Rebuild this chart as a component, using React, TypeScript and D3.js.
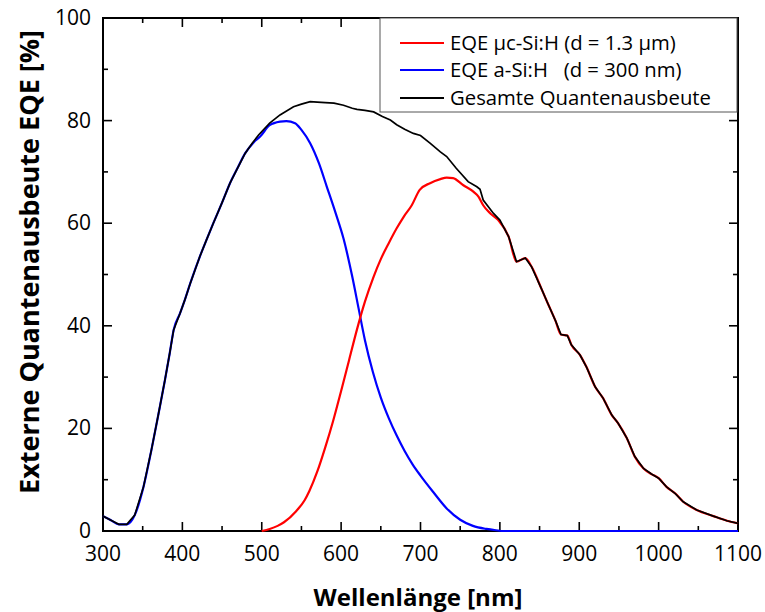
import React from "react";
import * as d3 from "d3";

// ---- data ----
const totalNm = [300, 310, 320, 330, 340, 351, 361, 370, 378, 384, 389, 397, 403, 410, 422, 430, 439, 450, 460, 470, 479, 488, 496, 510, 523, 540, 550, 561, 570, 580, 591, 603, 614, 620, 630, 641, 652, 662, 670, 680, 691, 700, 712, 725, 733, 745, 760, 771, 775, 779, 792, 800, 811, 821, 832, 840, 853, 860, 870, 877, 885, 890, 901, 909, 920, 930, 941, 949, 960, 970, 981, 991, 1000, 1010, 1021, 1031, 1048, 1069, 1086, 1100];
const totalEqe = [2.9, 2.1, 1.3, 1.3, 3.1, 8.6, 15.8, 22.9, 29.4, 34.6, 39.2, 42.4, 45.0, 48.3, 53.5, 56.6, 60.0, 64.0, 67.8, 70.9, 73.6, 75.6, 77.2, 79.5, 81.1, 82.7, 83.2, 83.7, 83.6, 83.5, 83.4, 83.0, 82.4, 82.2, 82.0, 81.7, 80.8, 80.1, 79.2, 78.3, 77.5, 77.1, 75.6, 73.9, 73.0, 70.7, 68.1, 67.1, 66.6, 64.5, 61.9, 60.6, 57.4, 52.5, 53.2, 51.5, 47.0, 44.5, 41.0, 38.3, 38.1, 36.3, 34.3, 32.0, 28.1, 25.9, 22.6, 21.0, 18.1, 14.5, 12.2, 11.1, 10.3, 8.6, 7.3, 5.7, 4.1, 2.9, 2.0, 1.5];

const aSiNm = [300, 310, 320, 330, 340, 351, 361, 370, 378, 384, 389, 397, 403, 410, 422, 430, 439, 450, 460, 470, 479, 490, 498, 510, 523, 531, 542, 550, 561, 572, 582, 593, 603, 614, 622, 630, 640, 650, 660, 670, 680, 690, 700, 716, 733, 750, 766, 783, 795, 805, 1100];
const aSiEqe = [2.9, 2.1, 1.3, 1.3, 3.1, 8.6, 15.8, 22.9, 29.4, 34.6, 39.2, 42.4, 45.0, 48.3, 53.5, 56.6, 60.0, 64.0, 67.8, 70.9, 73.6, 75.8, 76.9, 79.1, 79.8, 79.9, 79.5, 78.2, 75.6, 71.7, 67.1, 62.0, 57.0, 49.6, 43.4, 37.2, 31.0, 26.0, 22.0, 18.6, 15.6, 13.0, 10.8, 7.6, 4.4, 2.2, 1.0, 0.4, 0.15, 0.0, 0.0];

const ucSiNm = [500, 510, 520, 528, 543, 554, 560, 570, 580, 590, 600, 610, 620, 630, 641, 650, 660, 670, 679, 689, 699, 712, 725, 733, 741, 754, 767, 773, 779, 788, 798, 811, 821, 832, 840, 853, 860, 870, 877, 885, 890, 901, 909, 920, 930, 941, 949, 960, 970, 981, 991, 1000, 1010, 1021, 1031, 1048, 1069, 1086, 1100];
const ucSiEqe = [0.0, 0.4, 1.0, 1.7, 3.8, 6.0, 7.8, 11.6, 16.3, 21.5, 27.3, 33.3, 39.3, 44.7, 49.6, 53.0, 56.1, 59.0, 61.3, 63.5, 66.5, 67.8, 68.6, 68.9, 68.8, 67.4, 66.1, 65.2, 63.5, 61.9, 60.6, 57.4, 52.5, 53.2, 51.5, 47.0, 44.5, 41.0, 38.3, 38.1, 36.3, 34.3, 32.0, 28.1, 25.9, 22.6, 21.0, 18.1, 14.5, 12.2, 11.1, 10.3, 8.6, 7.3, 5.7, 4.1, 2.9, 2.0, 1.5];

const xTickLabels = [300, 400, 500, 600, 700, 800, 900, 1000, 1100];
const xMinorTicks = [350, 450, 550, 650, 750, 850, 950, 1050];
const yTickLabels = [0, 20, 40, 60, 80, 100];
const yMinorTicks = [10, 30, 50, 70, 90];

const legendLabels = ["EQE \u00b5c-Si:H (d = 1.3 \u00b5m)", "EQE a-Si:H   (d = 300 nm)", "Gesamte Quantenausbeute"];
const seriesColors = ["#ff0000", "#0000ff", "#000000"];

const W = 765, H = 612;
const left = 103, right = 738, top = 18, bottom = 531;
const FONT = "'Open Sans', 'Noto Sans', sans-serif";

export default function App() {
  const x = d3.scaleLinear().domain([300, 1100]).range([left, right]);
  const y = d3.scaleLinear().domain([0, 100]).range([bottom, top]);
  const lineLin = d3.line<[number, number]>().x(d => x(d[0])).y(d => y(d[1]));
  const lineSmooth = d3.line<[number, number]>().x(d => x(d[0])).y(d => y(d[1])).curve(d3.curveMonotoneX);
  const mk = (nm: number[], v: number[], smooth: boolean) =>
    (smooth ? lineSmooth : lineLin)(nm.map((n, i) => [n, v[i]] as [number, number])) || "";

  const major = 9, minor = 5;
  const legX = 380, legY = 18, legW = 357, legH = 94;
  const rows = [43, 70, 98];

  return (
    <svg width={W} height={H} style={{ position: "absolute", left: 0, top: 0, background: "#fff" }} fontFamily={FONT}>
      <rect x={0} y={0} width={W} height={H} fill="#fff" />
      {xTickLabels.map(t => (
        <g key={"xt" + t}>
          <line x1={x(t)} x2={x(t)} y1={bottom} y2={bottom - major} stroke="#000" strokeWidth={1.6} />
          <line x1={x(t)} x2={x(t)} y1={top} y2={top + major} stroke="#000" strokeWidth={1.6} />
          <text x={x(t)} y={561} fontSize={21} textAnchor="middle" fill="#000">{t}</text>
        </g>
      ))}
      {xMinorTicks.map(t => (
        <g key={"xm" + t}>
          <line x1={x(t)} x2={x(t)} y1={bottom} y2={bottom - minor} stroke="#000" strokeWidth={1.6} />
          <line x1={x(t)} x2={x(t)} y1={top} y2={top + minor} stroke="#000" strokeWidth={1.6} />
        </g>
      ))}
      {yTickLabels.map(t => (
        <g key={"yt" + t}>
          <line x1={left} x2={left + major} y1={y(t)} y2={y(t)} stroke="#000" strokeWidth={1.6} />
          <line x1={right} x2={right - major} y1={y(t)} y2={y(t)} stroke="#000" strokeWidth={1.6} />
          <text x={91} y={y(t) + 7} fontSize={21} textAnchor="end" fill="#000">{t}</text>
        </g>
      ))}
      {yMinorTicks.map(t => (
        <g key={"ym" + t}>
          <line x1={left} x2={left + minor} y1={y(t)} y2={y(t)} stroke="#000" strokeWidth={1.6} />
          <line x1={right} x2={right - minor} y1={y(t)} y2={y(t)} stroke="#000" strokeWidth={1.6} />
        </g>
      ))}
      <rect x={left} y={top} width={right - left} height={bottom - top} fill="none" stroke="#000" strokeWidth={2} />

      <path d={mk(aSiNm, aSiEqe, true)} fill="none" stroke={seriesColors[1]} strokeWidth={2.2} />
      <path d={mk(ucSiNm, ucSiEqe, true)} fill="none" stroke={seriesColors[0]} strokeWidth={2.2} />
      <path d={mk(totalNm, totalEqe, false)} fill="none" stroke={seriesColors[2]} strokeWidth={1.7} />

      <rect x={legX} y={legY} width={legW} height={legH} fill="#fff" stroke="#555" strokeWidth={1} />
      {legendLabels.map((l, i) => (
        <g key={"lg" + i}>
          <line x1={400} x2={444} y1={rows[i]} y2={rows[i]} stroke={seriesColors[i]} strokeWidth={2} />
          <text x={450} y={rows[i] + 7} fontSize={20.3} fill="#000" style={{ whiteSpace: "pre" }}>{l}</text>
        </g>
      ))}

      <text x={418} y={606} fontSize={24} fontWeight="bold" textAnchor="middle" fill="#000">Wellenlänge [nm]</text>
      <text transform="translate(39,262) rotate(-90)" fontSize={27} fontWeight="bold" textAnchor="middle" fill="#000">Externe Quantenausbeute EQE [%]</text>
    </svg>
  );
}
